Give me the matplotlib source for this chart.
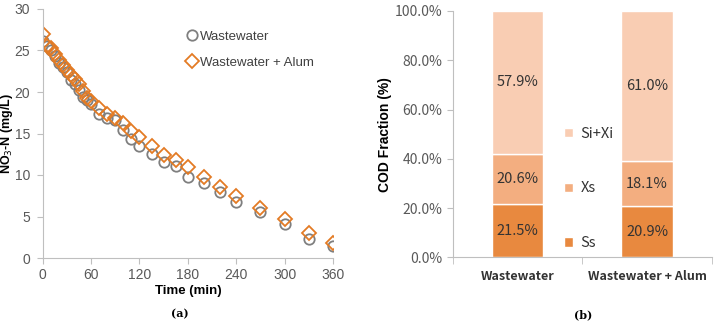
import numpy as np
import matplotlib.pyplot as plt

# (a) nitrate over time
time_min = [0, 5, 10, 15, 20, 25, 30, 35, 40, 45, 50, 55, 60, 70, 80, 90, 100,
            110, 120, 135, 150, 165, 180, 200, 220, 240, 270, 300, 330, 360]
no3_ww = [26.2, 25.6, 25.1, 24.3, 23.5, 23.0, 22.4, 21.5, 21.0, 20.2, 19.4, 19.0,
          18.6, 17.3, 16.9, 16.6, 15.4, 14.3, 13.5, 12.5, 11.6, 11.1, 9.7, 9.0,
          8.0, 6.8, 5.5, 4.1, 2.3, 1.4]
no3_alum = [27.0, 25.6, 25.3, 24.6, 23.8, 23.2, 22.6, 22.1, 21.6, 21.0, 20.1, 19.3,
            18.9, 18.1, 17.3, 16.9, 16.3, 15.3, 14.6, 13.5, 12.4, 11.8, 11.0, 9.8,
            8.6, 7.5, 6.0, 4.7, 3.0, 1.8]

# (b) COD fractions
samples = ["Wastewater", "Wastewater + Alum"]
frac_ss = [21.5, 20.9]
frac_xs = [20.6, 18.1]
frac_sixi = [57.9, 61.0]
frac_names = ["Ss", "Xs", "Si+Xi"]
frac_colors = ["#E8893F", "#F3AE80", "#F9CDB3"]

sans = ["Liberation Sans", "DejaVu Sans"]
kr = ["Noto Sans CJK KR", "DejaVu Sans"]
grey_txt = "#595959"
spine_c = "#BFBFBF"

fig = plt.figure(figsize=(7.14, 3.23), dpi=100)

# ---- left panel
ax1 = fig.add_axes([42.7 / 714, 1 - 258 / 323, (333 - 42.7) / 714, (258 - 9) / 323])
ax1.plot(time_min, no3_ww, "o", ms=7.5, mfc="none", mec="#7F7F7F", mew=1.3,
         label="Wastewater")
ax1.plot(time_min, no3_alum, "D", ms=7, mfc="none", mec="#E37B24", mew=1.3,
         label="Wastewater + Alum")
ax1.set_xlim(0, 360)
ax1.set_ylim(0, 30)
ax1.set_xticks(np.arange(0, 361, 60))
ax1.set_yticks(np.arange(0, 31, 5))
for s in ["top", "right"]:
    ax1.spines[s].set_visible(False)
for s in ["left", "bottom"]:
    ax1.spines[s].set_color(spine_c)
ax1.tick_params(colors=spine_c, labelcolor=grey_txt, length=4, labelsize=10)
ax1.tick_params(axis="y", pad=5)
for lab in ax1.get_xticklabels() + ax1.get_yticklabels():
    lab.set_family(sans)
ax1.set_xlabel("Time (min)", fontsize=9.5, fontweight="bold", family=sans, labelpad=2)
ax1.set_ylabel("NO$_3$-N (mg/L)", fontsize=9, fontweight="bold", family=sans)
ax1.yaxis.set_label_coords(-28 / 290, 0.5)
leg1 = ax1.legend(loc="upper left", bbox_to_anchor=(0.46, 0.96), frameon=False,
                  handlelength=0.6, handletextpad=0.3, labelspacing=1.0,
                  prop={"family": sans, "size": 9.5})
for t in leg1.get_texts():
    t.set_color("#404040")
fig.text(180 / 714, 1 - 314 / 323, "(a)", ha="center", va="center",
         family="DejaVu Serif", fontsize=8, fontweight="bold")

# ---- right panel
ax2 = fig.add_axes([452.7 / 714, 1 - 257.3 / 323, (712 - 452.7) / 714, (257.3 - 11) / 323])
x = np.arange(len(samples))
bottom = np.zeros(len(samples))
for vals, name, col in zip([frac_ss, frac_xs, frac_sixi], frac_names, frac_colors):
    ax2.bar(x, vals, width=0.4, bottom=bottom, color=col, edgecolor="white",
            linewidth=1, label=name)
    for xi, v, b in zip(x, vals, bottom):
        ax2.text(xi, b + v / 2, f"{v:.1f}%", ha="center", va="center",
                 family=kr, fontsize=10.5, color="#333333")
    bottom += np.array(vals)
ax2.set_xlim(-0.5, 1.5)
ax2.set_ylim(0, 100)
ax2.set_yticks(np.arange(0, 101, 20))
ax2.set_yticklabels([f"{v:.1f}%" for v in np.arange(0, 101, 20)])
ax2.set_xticks(x)
ax2.set_xticklabels(samples, fontweight="bold", fontsize=9)
ax2.set_xticks([-0.5, 0.5, 1.5], minor=True)
ax2.tick_params(axis="x", which="major", length=0, pad=9)
ax2.tick_params(axis="x", which="minor", length=5, color=spine_c)
ax2.tick_params(axis="y", length=4, color=spine_c, labelsize=10)
ax2.tick_params(labelcolor=grey_txt)
for lab in ax2.get_xticklabels() + ax2.get_yticklabels():
    lab.set_family(kr)
for lab in ax2.get_xticklabels():
    lab.set_color("#333333")
for s in ["top", "right"]:
    ax2.spines[s].set_visible(False)
for s in ["left", "bottom"]:
    ax2.spines[s].set_color(spine_c)
ax2.set_ylabel("COD Fraction (%)", fontsize=10, fontweight="bold", family=sans, labelpad=2)
h, l = ax2.get_legend_handles_labels()
leg2 = ax2.legend(h[::-1], l[::-1], loc="center left", bbox_to_anchor=(0.38, 0.28),
                  frameon=False, handlelength=0.6, handleheight=0.6, handletextpad=0.5,
                  labelspacing=2.8, prop={"family": kr, "size": 10.5})
for t in leg2.get_texts():
    t.set_color("#333333")
fig.text(583 / 714, 1 - 315 / 323, "(b)", ha="center", va="center",
         family="DejaVu Serif", fontsize=8, fontweight="bold")

fig.savefig("out.png", dpi=100)
